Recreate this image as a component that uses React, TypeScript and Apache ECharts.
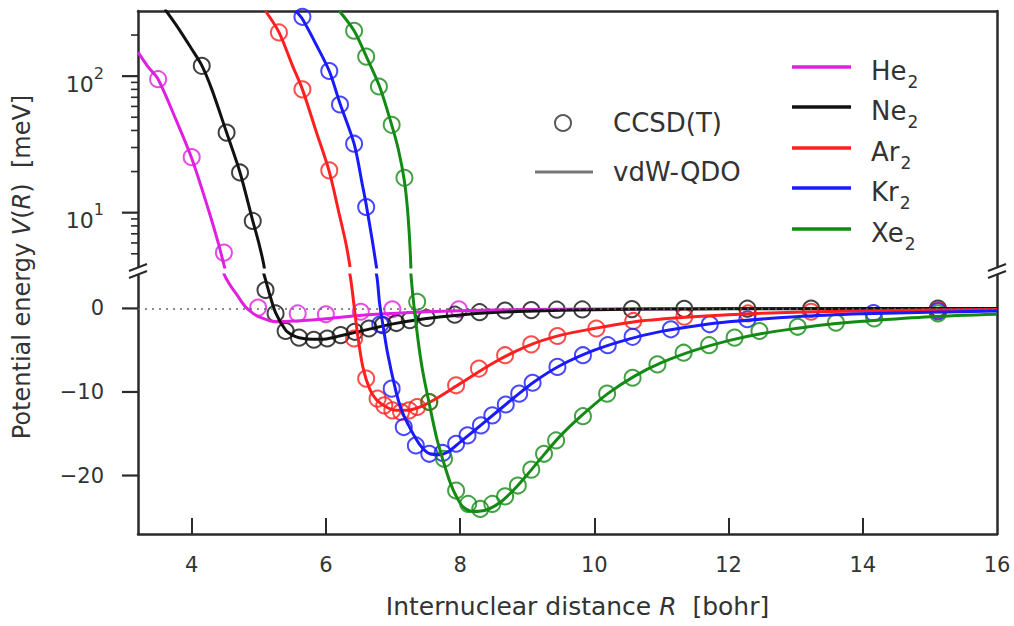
import { useEffect, useRef } from 'react';
import * as echarts from 'echarts';

// ---------- data ----------
const speciesNames = ['He', 'Ne', 'Ar', 'Kr', 'Xe'];
const speciesColors = ['#e020e0', '#111111', '#ff1f1f', '#1a1aff', '#138a13'];

const xTickValues = [4, 6, 8, 10, 12, 14, 16];
const xTickMarks = [4, 6, 8, 10, 12, 14];
const logMajorValues = [10, 100];
const logMinorValues = [5, 6, 7, 8, 9, 20, 30, 40, 50, 60, 70, 80, 90, 200];
const linTickValues = [-20, -10, 0];

// vdW-QDO curves [R (bohr), V (meV)]
const heCurve = [[3.2, 150], [3.35, 117], [3.5, 95], [3.75, 50], [4.0, 25], [4.25, 10.5], [4.4, 5.9], [4.5, 3.8], [4.58, 2.7], [4.66, 1.8], [4.8, 0.2], [4.9, -0.5], [5.0, -1.0], [5.25, -1.6], [5.55, -1.5], [6.05, -1.2], [6.5, -0.85], [7.0, -0.6], [7.5, -0.4], [8.0, -0.28], [9.0, -0.13], [10, -0.07], [12, -0.02], [16, 0]];
const neCurve = [[3.6, 310], [3.8, 225], [4.0, 158], [4.15, 120], [4.3, 80], [4.52, 38.6], [4.72, 19.7], [4.91, 8.7], [5.0, 6.0], [5.08, 4.0], [5.15, 2.0], [5.25, -0.5], [5.4, -2.6], [5.5, -3.2], [5.6, -3.5], [5.8, -3.7], [6.0, -3.65], [6.2, -3.3], [6.5, -2.75], [7.0, -1.85], [7.5, -1.2], [8.0, -0.78], [8.5, -0.5], [9.0, -0.33], [10, -0.15], [11, -0.08], [12, -0.04], [14, -0.015], [16, 0]];
const arCurve = [[5.1, 300], [5.3, 210], [5.5, 120], [5.65, 80], [5.85, 40], [6.05, 20], [6.2, 9.7], [6.3, 5.9], [6.36, 4.0], [6.42, 0.3], [6.47, -3.0], [6.55, -7.0], [6.65, -9.6], [6.75, -10.9], [6.9, -11.8], [7.05, -12.2], [7.2, -12.2], [7.4, -11.8], [7.6, -11.0], [8.0, -9.0], [8.5, -6.5], [9.0, -4.5], [9.5, -3.2], [10, -2.4], [10.6, -1.6], [11.3, -1.1], [12, -0.75], [13, -0.45], [14, -0.3], [15, -0.2], [16, -0.13]];
const krCurve = [[5.55, 300], [5.65, 262], [5.85, 172], [6.05, 109], [6.21, 63], [6.42, 32], [6.55, 15.4], [6.6, 11.5], [6.69, 6.3], [6.76, 3.8], [6.8, 0.6], [6.85, -2.0], [6.92, -5.4], [7.04, -9.8], [7.12, -12.0], [7.22, -13.8], [7.39, -16.2], [7.55, -17.4], [7.7, -17.5], [7.85, -17.0], [8.0, -16.0], [8.2, -14.7], [8.5, -12.7], [8.8, -10.7], [9.1, -8.8], [9.5, -6.8], [10, -5.0], [10.5, -3.7], [11, -2.75], [11.5, -2.1], [12, -1.6], [13, -1.0], [14, -0.65], [15, -0.45], [16, -0.32]];
const xeCurve = [[6.2, 300], [6.42, 215], [6.6, 140], [6.8, 84], [6.98, 44], [7.08, 29], [7.17, 17], [7.22, 10], [7.26, 4.8], [7.3, 1.2], [7.37, -3.6], [7.44, -7.4], [7.54, -11.4], [7.65, -15.5], [7.75, -18.3], [7.85, -20.8], [7.95, -22.6], [8.05, -23.8], [8.2, -24.3], [8.4, -24.1], [8.6, -23.2], [8.8, -21.7], [9.0, -19.9], [9.25, -17.5], [9.5, -15.2], [9.8, -12.9], [10.2, -10.2], [10.6, -8.1], [11.0, -6.5], [11.5, -5.0], [12, -3.85], [12.5, -3.0], [13, -2.4], [13.5, -1.9], [14, -1.55], [15, -1.0], [16, -0.7]];

// CCSD(T) reference points [R (bohr), V (meV)]
const heCCSD = [[3.5, 95], [4.0, 25.5], [4.48, 5.1], [4.99, 0.1], [5.58, -0.6], [6.0, -0.7], [6.52, -0.4], [6.99, -0.1], [7.98, -0.1]];
const neCCSD = [[4.15, 119], [4.52, 38.6], [4.72, 19.7], [4.91, 8.7], [5.1, 2.2], [5.25, -0.6], [5.4, -2.7], [5.6, -3.5], [5.82, -3.75], [6.02, -3.6], [6.22, -3.2], [6.43, -2.8], [6.64, -2.4], [6.85, -2.0], [7.05, -1.75], [7.25, -1.4], [7.5, -1.15], [7.92, -0.75], [8.29, -0.45], [8.67, -0.25], [9.06, -0.2], [9.44, -0.15], [9.82, -0.12], [10.56, -0.08], [11.34, -0.05], [12.28, -0.03], [13.23, -0.02], [15.12, -0.01]];
const arCCSD = [[5.3, 209], [5.65, 80], [6.05, 20.4], [6.42, -3.6], [6.6, -8.4], [6.77, -10.8], [6.87, -11.6], [6.99, -12.2], [7.12, -12.4], [7.24, -12.2], [7.36, -11.8], [7.54, -11.2], [7.94, -9.2], [8.28, -7.2], [8.67, -5.6], [9.06, -4.3], [9.45, -3.3], [10.03, -2.4], [10.58, -1.5], [11.34, -1.0], [12.29, -0.6], [13.23, -0.4], [15.12, -0.2]];
const krCCSD = [[5.65, 272], [6.05, 109], [6.21, 62], [6.42, 32], [6.6, 11], [6.81, -1.9], [6.98, -9.6], [7.16, -14.2], [7.34, -16.4], [7.54, -17.4], [7.74, -17.3], [7.94, -16.2], [8.11, -15.2], [8.31, -14.0], [8.48, -12.8], [8.68, -11.5], [8.88, -10.2], [9.08, -8.9], [9.45, -7.0], [9.83, -5.6], [10.2, -4.4], [10.57, -3.4], [11.14, -2.5], [11.72, -1.9], [12.28, -1.3], [14.16, -0.55], [15.12, -0.35]];
const xeCCSD = [[6.42, 215], [6.6, 139], [6.79, 84], [6.98, 44], [7.17, 18], [7.36, 0.8], [7.54, -11.2], [7.76, -18.0], [7.94, -21.8], [8.12, -23.4], [8.3, -24.0], [8.48, -23.4], [8.67, -22.5], [8.86, -21.2], [9.06, -19.3], [9.25, -17.4], [9.43, -15.8], [9.83, -12.9], [10.19, -10.2], [10.57, -8.3], [10.94, -6.7], [11.33, -5.3], [11.71, -4.4], [12.09, -3.5], [12.46, -2.7], [13.03, -2.2], [13.6, -1.7], [14.17, -1.2], [15.12, -0.6]];

const curves = [heCurve, neCurve, arCurve, krCurve, xeCurve];
const points = [heCCSD, neCCSD, arCCSD, krCCSD, xeCCSD];

// ---------- layout ----------
const W = 1014;
const H = 626;
const X_MIN = 3.2;
const X_MAX = 16;
const LOG_MIN = 4;
const LOG_MAX = 300;
const LIN_MIN = -27;
const LIN_MAX = 4;
const LEFT = 138;
const PW = 859;
const TOP1 = 11;
const H1 = 256;
const TOP2 = 275;
const H2 = 259;
const FONT = '"DejaVu Sans", "Liberation Sans", sans-serif';
const TXT = '#333333';
const AX = '#2a2a2a';

export default function App() {
  const ref = useRef<HTMLDivElement>(null);

  useEffect(() => {
    document.body.style.margin = '0';
    if (!ref.current) return;
    const chart = echarts.init(ref.current, undefined, { renderer: 'svg' });

    const axisLineStyle = { color: AX, width: 2.5 };

    const series: any[] = [];
    // zero reference line
    series.push({
      type: 'line', xAxisIndex: 1, yAxisIndex: 2, data: [], silent: true,
      markLine: {
        symbol: 'none', silent: true, label: { show: false },
        lineStyle: { color: '#666', width: 1.5, type: [2, 5] },
        data: [{ yAxis: 0 }],
      },
    });

    speciesNames.forEach((name, i) => {
      const c = speciesColors[i];
      const base = {
        type: 'scatter', symbol: 'circle', symbolSize: 16, silent: true, clip: true,
        itemStyle: { color: 'rgba(255,255,255,0)', borderColor: c, borderWidth: 2 },
      };
      series.push({ ...base, name: name + ' CCSD(T) top', xAxisIndex: 0, yAxisIndex: 0, data: points[i].filter((p) => p[1] > 0) });
      series.push({ ...base, name: name + ' CCSD(T)', xAxisIndex: 1, yAxisIndex: 2, data: points[i].filter((p) => p[1] < 6) });
    });
    speciesNames.forEach((name, i) => {
      const c = speciesColors[i];
      const base = {
        type: 'line', showSymbol: false, symbol: 'none', smooth: 0.3,
        clip: true, silent: true, lineStyle: { color: c, width: 3 },
      };
      series.push({ ...base, name: name + ' vdW-QDO top', xAxisIndex: 0, yAxisIndex: 0, data: curves[i].filter((p) => p[1] > 1) });
      series.push({ ...base, name: name + ' vdW-QDO', xAxisIndex: 1, yAxisIndex: 2, data: curves[i].filter((p) => p[1] < 30) });
    });

    const textStyleFor = (size: number) => ({ fontSize: size, fontFamily: FONT, fill: TXT, color: TXT });

    const graphic: any[] = [];
    // method legend
    graphic.push({ type: 'circle', shape: { cx: 563, cy: 123, r: 8 }, style: { fill: 'none', stroke: '#5a5a5a', lineWidth: 2 } });
    graphic.push({ type: 'text', x: 613, y: 123, style: { text: 'CCSD(T)', ...textStyleFor(26), align: 'left', verticalAlign: 'middle', textAlign: 'left', textVerticalAlign: 'middle' } });
    graphic.push({ type: 'line', shape: { x1: 535, y1: 172, x2: 593, y2: 172 }, style: { stroke: '#777', lineWidth: 3 } });
    graphic.push({ type: 'text', x: 613, y: 172, style: { text: 'vdW-QDO', ...textStyleFor(26), align: 'left', verticalAlign: 'middle', textAlign: 'left', textVerticalAlign: 'middle' } });
    // species legend
    const legendY = [67, 107, 148, 188, 229];
    speciesNames.forEach((name, i) => {
      graphic.push({ type: 'line', shape: { x1: 792, y1: legendY[i], x2: 851, y2: legendY[i] }, style: { stroke: speciesColors[i], lineWidth: 3.5 } });
      graphic.push({
        type: 'text', x: 871, y: legendY[i] + 4,
        style: {
          text: name + '{s|2}', ...textStyleFor(26), lineHeight: 26,
          align: 'left', verticalAlign: 'middle', textAlign: 'left', textVerticalAlign: 'middle',
          rich: { s: { ...textStyleFor(17), lineHeight: 17, padding: [15, 0, 0, 1], verticalAlign: 'top' } },
        },
      });
    });
    // axis break marks
    const gapMid = (TOP1 + H1 + TOP2) / 2;
    [LEFT, LEFT + PW].forEach((ax) => {
      [-3.5, 3.5].forEach((d) => {
        graphic.push({ type: 'line', shape: { x1: ax - 9, y1: gapMid + d + 3.5, x2: ax + 9, y2: gapMid + d - 3.5 }, style: { stroke: AX, lineWidth: 2 } });
      });
    });
    // y axis title
    graphic.push({
      type: 'text', x: 22, y: 267, rotation: Math.PI / 2,
      style: {
        text: 'Potential energy {i|V}({i|R})  [meV]', ...textStyleFor(24),
        align: 'center', verticalAlign: 'middle', textAlign: 'center', textVerticalAlign: 'middle',
        rich: { i: { ...textStyleFor(24), fontStyle: 'italic' } },
      },
    });

    // outward y-axis tick strokes (same extents as the two y axes)
    const yTop = (v: number) => TOP1 + H1 * (Math.log10(LOG_MAX) - Math.log10(v)) / (Math.log10(LOG_MAX) - Math.log10(LOG_MIN));
    const yBot = (v: number) => TOP2 + H2 * (LIN_MAX - v) / (LIN_MAX - LIN_MIN);
    logMajorValues.forEach((v) => graphic.push({ type: 'rect', z: 100, shape: { x: LEFT - 16, y: yTop(v) - 1.1, width: 16, height: 2.2 }, style: { fill: AX } }));
    logMinorValues.forEach((v) => graphic.push({ type: 'rect', z: 100, shape: { x: LEFT - 7, y: yTop(v) - 0.8, width: 7, height: 1.6 }, style: { fill: AX } }));
    linTickValues.forEach((v) => graphic.push({ type: 'rect', z: 100, shape: { x: LEFT - 16, y: yBot(v) - 1.1, width: 16, height: 2.2 }, style: { fill: AX } }));

    chart.setOption({
      animation: false,
      textStyle: { fontFamily: FONT },
      grid: [
        { left: LEFT, width: PW, top: TOP1, height: H1, show: false },
        { left: LEFT, width: PW, top: TOP2, height: H2, show: false },
      ],
      xAxis: [
        {
          gridIndex: 0, type: 'value', min: X_MIN, max: X_MAX, position: 'top',
          axisLine: { show: true, onZero: false, lineStyle: axisLineStyle },
          axisTick: { show: false }, axisLabel: { show: false }, splitLine: { show: false },
        },
        {
          gridIndex: 1, type: 'value', min: X_MIN, max: X_MAX, position: 'bottom',
          axisLine: { show: true, onZero: false, lineStyle: axisLineStyle },
          axisTick: { show: true, inside: true, length: 16, customValues: xTickMarks, lineStyle: { color: AX, width: 2 } },
          axisLabel: { show: true, customValues: xTickValues, fontSize: 21, color: TXT, fontFamily: FONT, margin: 20 },
          splitLine: { show: false },
          name: 'Internuclear distance {i|R}  [bohr]', nameLocation: 'middle', nameGap: 60,
          nameTextStyle: { fontSize: 25, color: TXT, fontFamily: FONT, padding: [0, 0, 0, 20], rich: { i: { fontSize: 25, color: TXT, fontFamily: FONT, fontStyle: 'italic' } } },
        },
      ],
      yAxis: [
        {
          gridIndex: 0, type: 'log', logBase: 10, min: LOG_MIN, max: LOG_MAX, position: 'left',
          axisLine: { show: true, onZero: false, lineStyle: axisLineStyle },
          axisTick: { show: false },
          axisLabel: {
            show: true, customValues: logMajorValues, margin: 34,
            formatter: (v: number) => '{b|10}{s|' + Math.round(Math.log10(v)) + '}',
            rich: {
              b: { fontSize: 22, color: TXT, fontFamily: FONT, lineHeight: 22, padding: [8, 0, 0, 0], verticalAlign: 'top' },
              s: { fontSize: 16, color: TXT, fontFamily: FONT, lineHeight: 16, verticalAlign: 'top' },
            },
          },
          splitLine: { show: false },
        },
        {
          gridIndex: 0, type: 'log', logBase: 10, min: LOG_MIN, max: LOG_MAX, position: 'right',
          axisLine: { show: true, onZero: false, lineStyle: axisLineStyle },
          axisTick: { show: false }, axisLabel: { show: false }, splitLine: { show: false },
        },
        {
          gridIndex: 1, type: 'value', min: LIN_MIN, max: LIN_MAX, position: 'left',
          axisLine: { show: true, onZero: false, lineStyle: axisLineStyle },
          axisTick: { show: false },
          axisLabel: {
            show: true, customValues: linTickValues, margin: 34, fontSize: 21, color: TXT, fontFamily: FONT,
            formatter: (v: number) => (v < 0 ? '\u2212' + Math.abs(v) : String(v)),
          },
          splitLine: { show: false },
        },
        {
          gridIndex: 1, type: 'value', min: LIN_MIN, max: LIN_MAX, position: 'right',
          axisLine: { show: true, onZero: false, lineStyle: axisLineStyle },
          axisTick: { show: false }, axisLabel: { show: false }, splitLine: { show: false },
        },
      ],
      series,
      graphic,
    });

    return () => chart.dispose();
  }, []);

  return <div ref={ref} style={{ width: W, height: H, overflow: 'hidden' }} />;
}
